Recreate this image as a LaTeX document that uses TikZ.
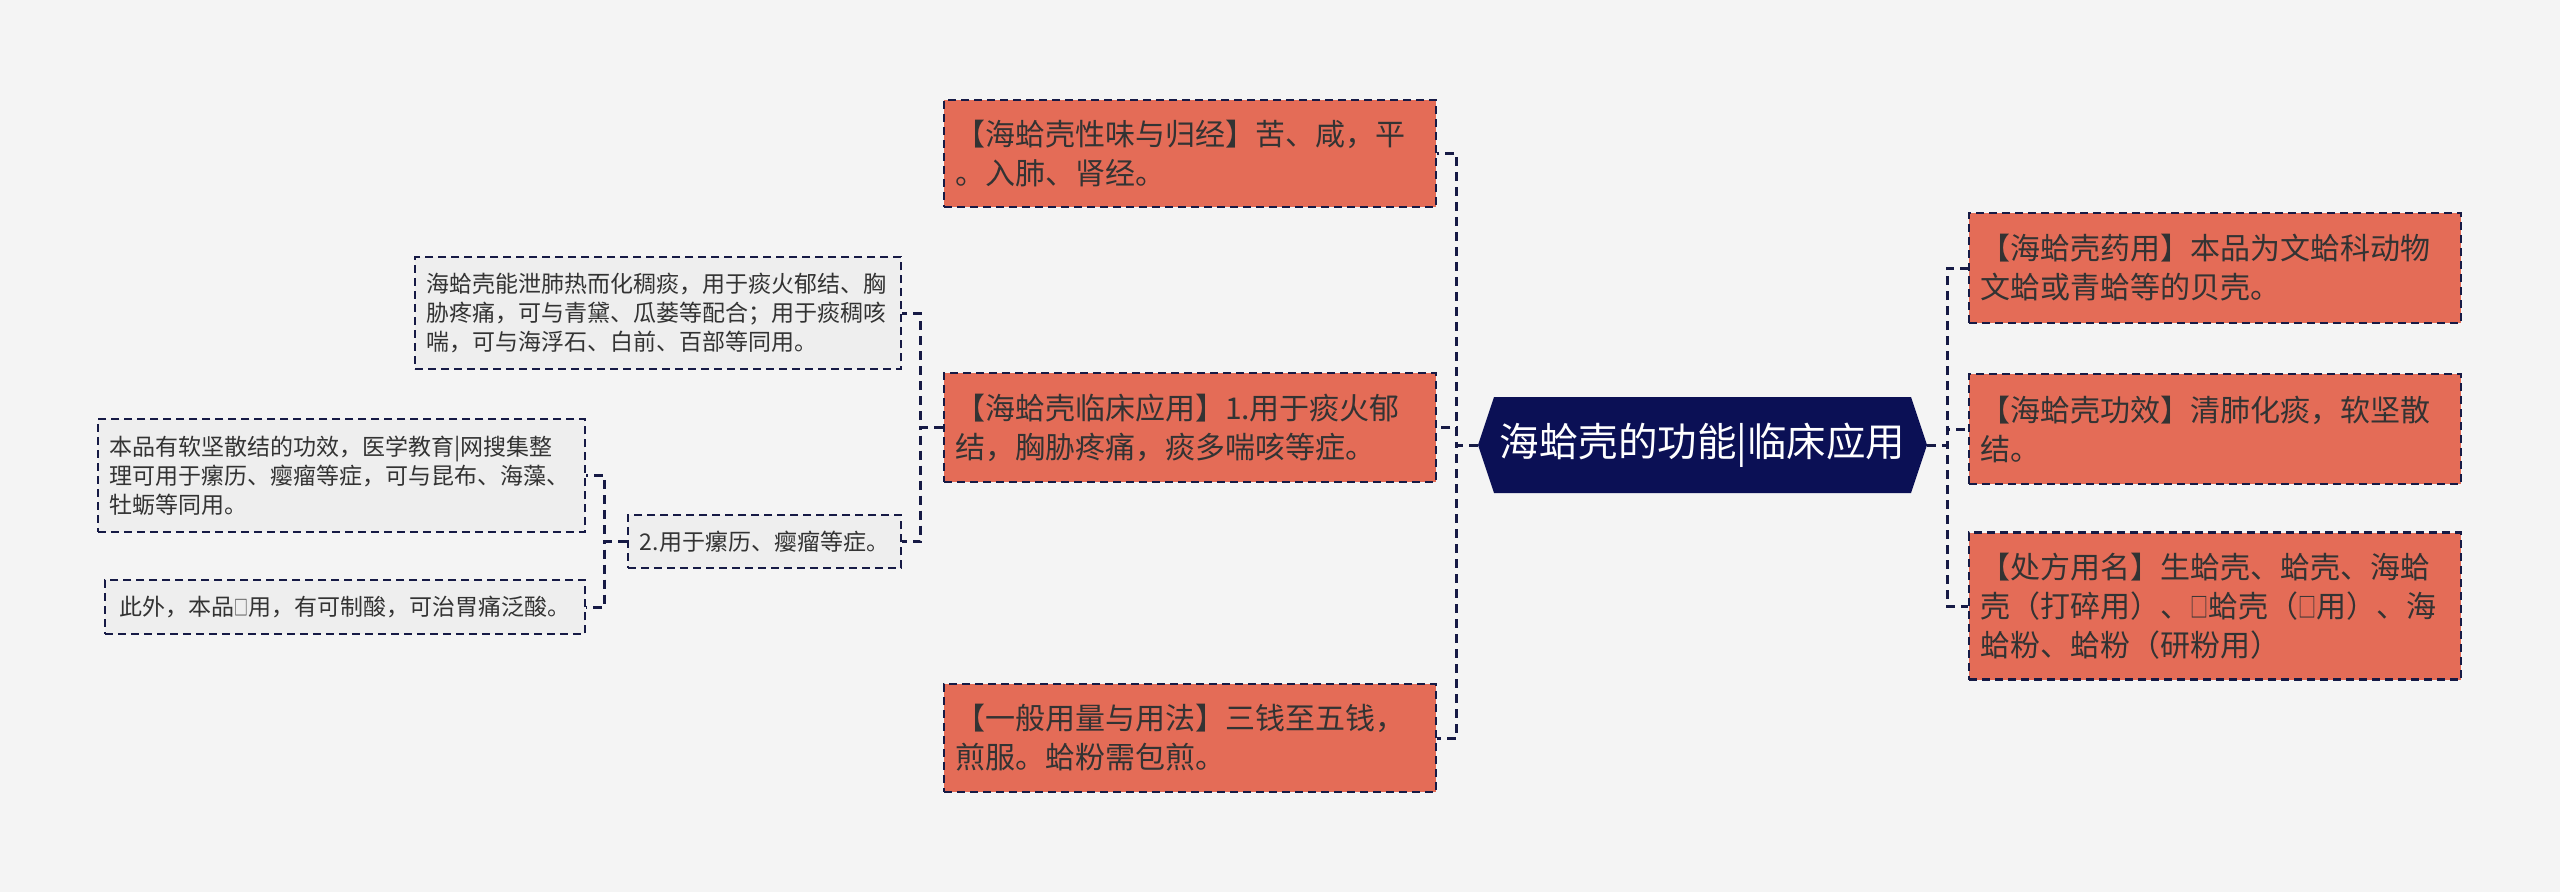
\documentclass[tikz,border=0pt]{standalone}
\usepackage{fontspec}
\usepackage{graphicx}
\setmainfont{Noto Sans CJK SC}
\usetikzlibrary{calc}
\definecolor{navyc}{HTML}{0B1055}
\definecolor{orangebox}{HTML}{E46C57}
\definecolor{bgc}{HTML}{F4F4F4}
\definecolor{grayfill}{HTML}{EEEEEE}
\definecolor{txt}{HTML}{333333}
\definecolor{edgec}{HTML}{161A45}
\newcommand{\tofu}{\scalebox{0.6}[0.9]{□}}
\tikzset{
  box/.style={draw=edgec, line width=2.6pt, dash pattern=on 8pt off 5pt, inner xsep=11pt, inner ysep=0pt, align=left, text=txt},
  obox/.style={box, fill=orangebox, font=\fontsize{30}{39}\selectfont},
  gbox/.style={box, fill=grayfill, font=\fontsize{23}{29}\selectfont},
  conn/.style={draw=edgec, line width=3pt, dash pattern=on 9pt off 6pt},
}
\begin{document}
\begin{tikzpicture}[x=1pt,y=-1pt]
\fill[bgc] (0,0) rectangle (2560,892);
\useasboundingbox (0,0) rectangle (2560,892);

% central node
\coordinate (cc) at (1702.5,445);
\fill[navyc] ($(cc)+(-224.5,0)$) -- ($(cc)+(-208.5,-48)$) -- ($(cc)+(208.5,-48)$) -- ($(cc)+(224.5,0)$) -- ($(cc)+(208.5,48)$) -- ($(cc)+(-208.5,48)$) -- cycle;
\node[minimum width=449pt, minimum height=96pt, inner sep=0pt, text=white, font=\fontsize{39.5}{45}\selectfont] (c) at (cc) {海蛤壳的功能|临床应用};

% right nodes
\node[obox, text width=470pt, minimum height=110pt] (A) at (2215,268) {【海蛤壳药用】本品为文蛤科动物\\文蛤或青蛤等的贝壳。};
\node[obox, text width=470pt, minimum height=110pt] (B) at (2215,429) {【海蛤壳功效】清肺化痰，软坚散\\结。};
\node[obox, text width=470pt, minimum height=147pt] (C) at (2215,606) {【处方用名】生蛤壳、蛤壳、海蛤\\壳（打碎用）、\tofu 蛤壳（\tofu 用）、海\\蛤粉、蛤粉（研粉用）};

% left level 1
\node[obox, text width=470pt, minimum height=107pt] (L1) at (1190,153.5) {【海蛤壳性味与归经】苦、咸，平\\。入肺、肾经。};
\node[obox, text width=470pt, minimum height=109pt] (L2) at (1190,427.5) {【海蛤壳临床应用】1.用于痰火郁\\结，胸胁疼痛，痰多喘咳等症。};
\node[obox, text width=470pt, minimum height=108pt] (L3) at (1190,738) {【一般用量与用法】三钱至五钱，\\煎服。蛤粉需包煎。};

% left level 2
\node[gbox, text width=464pt, minimum height=112pt] (L2a) at (658,313) {海蛤壳能泄肺热而化稠痰，用于痰火郁结、胸\\胁疼痛，可与青黛、瓜蒌等配合；用于痰稠咳\\喘，可与海浮石、白前、百部等同用。};
\node[gbox, minimum width=273pt, minimum height=53pt] (L2b) at (764.5,541.5) {2.用于瘰历、瘿瘤等症。};

% left level 3
\node[gbox, text width=465pt, minimum height=113pt] (L2b1) at (341.5,475.5) {本品有软坚散结的功效，医学教育|网搜集整\\理可用于瘰历、瘿瘤等症，可与昆布、海藻、\\牡蛎等同用。};
\node[gbox, minimum width=480pt, minimum height=54pt] (L2b2) at (345,607) {此外，本品\tofu 用，有可制酸，可治胃痛泛酸。};

% connectors
\draw[conn] (c.west) -- ++(-21,0) |- (L1.east);
\draw[conn] (c.west) -- ++(-21,0) |- (L2.east);
\draw[conn] (c.west) -- ++(-21,0) |- (L3.east);
\draw[conn] (c.east) -- ++(20,0) |- (A.west);
\draw[conn] (c.east) -- ++(20,0) |- (B.west);
\draw[conn] (c.east) -- ++(20,0) |- (C.west);
\draw[conn] (L2.west) -- ++(-22,0) |- (L2a.east);
\draw[conn] (L2.west) -- ++(-22,0) |- (L2b.east);
\draw[conn] (L2b.west) -- ++(-22,0) |- (L2b1.east);
\draw[conn] (L2b.west) -- ++(-22,0) |- (L2b2.east);
\end{tikzpicture}
\end{document}
